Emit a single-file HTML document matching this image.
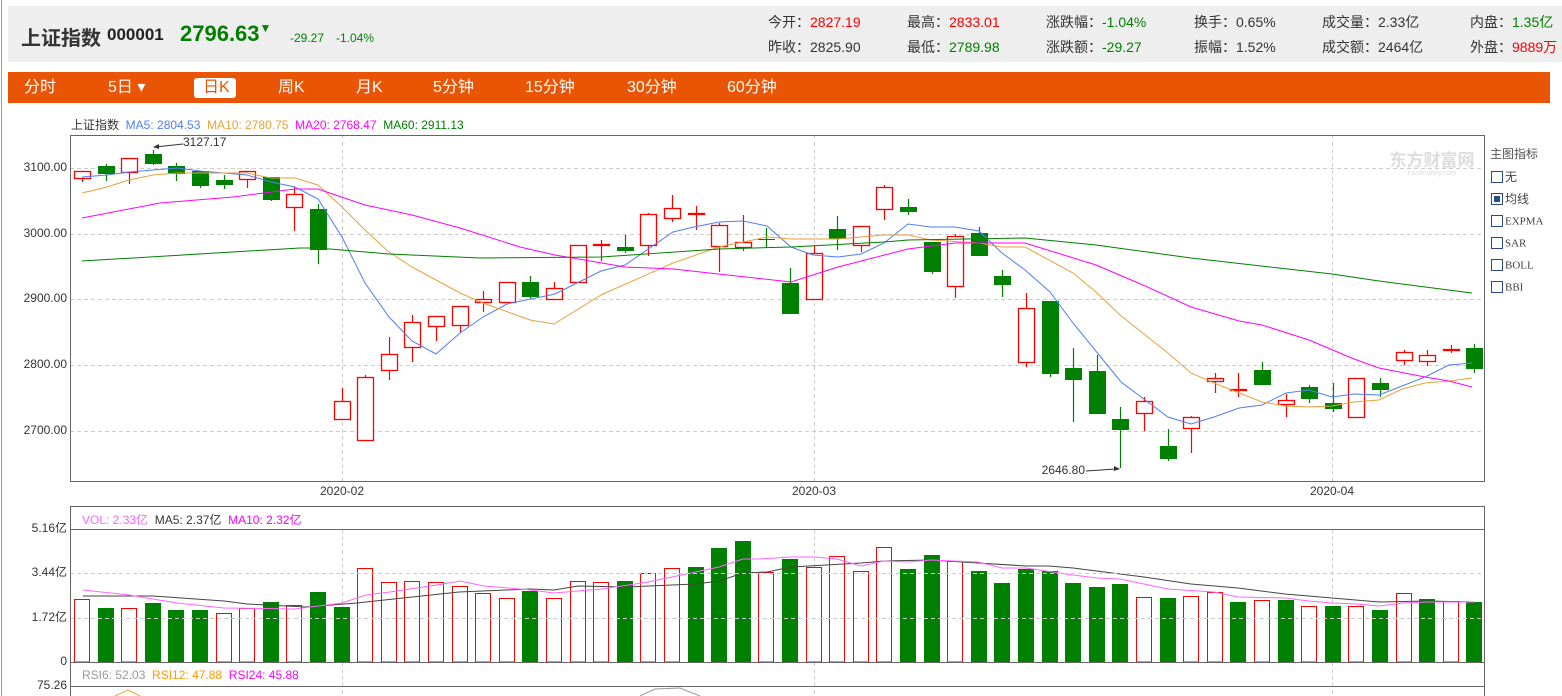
<!DOCTYPE html>
<html><head><meta charset="utf-8">
<style>
html,body{margin:0;width:1562px;height:696px;overflow:hidden}
body{background:#fff;position:relative;font-family:"Liberation Sans","Noto Sans CJK SC",sans-serif;color:#333}
.a{position:absolute;white-space:nowrap}
#hdr{position:absolute;left:8px;top:6px;width:1554px;height:56px;background:#eeeeee}
#bar{position:absolute;left:8px;top:72px;width:1542px;height:31px;background:#e95504}
.t{position:absolute;top:78px;color:#fff;font-size:16px;line-height:20px}
.s{font-size:14px;line-height:16px}
.g{color:#008000}.r{color:#f00}
</style></head><body>
<div class="a" style="left:1px;top:0;width:1px;height:696px;background:#999"></div>
<div id="hdr"></div>
<div class="a" style="left:21px;top:22px;font-size:20px;font-weight:bold;color:#333">上证指数</div>
<div class="a" style="left:107px;top:25px;font-size:17px;font-weight:bold;color:#222">000001</div>
<div class="a g" style="left:180px;top:21px;font-size:22px;font-weight:bold">2796.63<span style="font-size:12px;vertical-align:top">▼</span></div>
<div class="a g" style="left:290px;top:31px;font-size:12px">-29.27</div>
<div class="a g" style="left:336px;top:31px;font-size:12px">-1.04%</div>
<div class="a s" style="left:768px;top:14px">今开：<span class="r">2827.19</span></div>
<div class="a s" style="left:768px;top:39px">昨收：2825.90</div>
<div class="a s" style="left:907px;top:14px">最高：<span class="r">2833.01</span></div>
<div class="a s" style="left:907px;top:39px">最低：<span class="g">2789.98</span></div>
<div class="a s" style="left:1046px;top:14px">涨跌幅：<span class="g">-1.04%</span></div>
<div class="a s" style="left:1046px;top:39px">涨跌额：<span class="g">-29.27</span></div>
<div class="a s" style="left:1194px;top:14px">换手：0.65%</div>
<div class="a s" style="left:1194px;top:39px">振幅：1.52%</div>
<div class="a s" style="left:1322px;top:14px">成交量：2.33亿</div>
<div class="a s" style="left:1322px;top:39px">成交额：2464亿</div>
<div class="a s" style="left:1470px;top:14px">内盘：<span class="g">1.35亿</span></div>
<div class="a s" style="left:1470px;top:39px">外盘：<span class="r">9889万</span></div>
<div id="bar"></div>
<div class="t" style="left:24px">分时</div>
<div class="t" style="left:108px">5日 ▾</div>
<div class="a" style="left:194px;top:78px;width:42px;height:20px;background:#fff;border-radius:3px"></div>
<div class="t" style="left:203px;color:#e95504">日K</div>
<div class="t" style="left:278px">周K</div>
<div class="t" style="left:356px">月K</div>
<div class="t" style="left:433px">5分钟</div>
<div class="t" style="left:525px">15分钟</div>
<div class="t" style="left:627px">30分钟</div>
<div class="t" style="left:727px">60分钟</div>
<div class="a" style="left:71px;top:116px;font-size:12px">上证指数 &nbsp;<span style="color:#4e7ef7">MA5: 2804.53</span> &nbsp;<span style="color:#e6a23c">MA10: 2780.75</span> &nbsp;<span style="color:#f0f">MA20: 2768.47</span> &nbsp;<span style="color:#008000">MA60: 2911.13</span></div>
<div class="a" style="left:1490px;top:145px;font-size:12px;color:#555">主图指标</div>
<div class="a" style="left:82px;top:511px;font-size:12px"><span style="color:#f6f">VOL: 2.33亿</span> &nbsp;<span style="color:#333">MA5: 2.37亿</span> &nbsp;<span style="color:#f0f">MA10: 2.32亿</span></div>
<div class="a" style="left:82px;top:668px;font-size:12px"><span style="color:#999">RSI6: 52.03</span> &nbsp;<span style="color:#f90">RSI12: 47.88</span> &nbsp;<span style="color:#f0f">RSI24: 45.88</span></div>
<svg id="sv" class="a" style="left:0;top:0" width="1562" height="696" xmlns="http://www.w3.org/2000/svg" font-family="Liberation Sans, Noto Sans CJK SC, sans-serif"></svg>
<script>
var S='';
function L(x1,y1,x2,y2,c,w,d){S+='<line x1="'+x1+'" y1="'+y1+'" x2="'+x2+'" y2="'+y2+'" stroke="'+c+'" stroke-width="'+(w||1)+'"'+(d?' stroke-dasharray="'+d+'"':'')+'/>';}
function T(x,y,s,a,c,f){S+='<text x="'+x+'" y="'+y+'" font-size="'+(f||12)+'" fill="'+(c||'#333')+'" text-anchor="'+(a||'start')+'" dominant-baseline="middle">'+s+'</text>';}
function P(pts,c,w){S+='<polyline fill="none" stroke="'+c+'" stroke-width="'+(w||1)+'" points="'+pts.map(function(p){return p.join(',')}).join(' ')+'"/>';}
[[168,'3100.00'],[234,'3000.00'],[299,'2900.00'],[365,'2800.00'],[431,'2700.00']].forEach(function(g){L(70,g[0]+.5,1485,g[0]+.5,'#ccc',1,'4,3');T(67,g[0],g[1],'end');});
[[342,'2020-02'],[814,'2020-03'],[1332,'2020-04']].forEach(function(g){L(g[0]+.5,135,g[0]+.5,481,'#ccc',1,'4,3');L(g[0]+.5,529,g[0]+.5,696,'#ccc',1,'4,3');T(g[0],492,g[1],'middle');});
S+='<text x="1432" y="166" font-size="17" font-weight="bold" fill="#ddd" text-anchor="middle">东方财富网</text><text x="1432" y="175" font-size="7" fill="#ddd" text-anchor="middle">eastmoney.com</text>';
var C=[['r',179,171,171,182],['g',166,174,164,181],['r',173,158,158,184],['g',154,164,150,165],['g',166,174,163,181],['g',171,186,171,188],['g',180,185,175,189],['r',180,171,171,188],['g',177,200,177,201],['r',208,194,187,231],['g',209,250,204,264],['r',420,401,388,420],['r',441,377,375,441],['r',371,354,337,380],['r',348,322,315,362],['r',327,316,316,341],['r',326,306,306,333],['r',303,299,291,312],['r',303,282,282,303],['g',282,297,276,299],['r',300,288,282,300],['r',283,245,245,283],['r',246,244,240,261],['g',247,251,235,253],['r',246,214,213,256],['r',219,208,195,222],['r',215,213,206,230],['r',247,225,223,272],['r',248,242,215,251],['g',239,240,228,248],['g',283,314,268,314],['r',300,253,245,300],['g',229,239,216,250],['r',246,226,226,252],['r',210,187,185,220],['g',207,212,199,215],['g',242,272,242,274],['r',287,236,234,298],['g',233,256,227,256],['g',276,285,270,297],['r',363,308,293,367],['g',301,374,301,377],['g',368,380,348,422],['g',371,414,355,414],['g',419,430,407,468],['r',414,401,397,431],['g',446,459,429,461],['r',429,417,416,453],['r',382,378,373,393],['r',391,389,373,397],['g',370,385,362,385],['r',405,400,394,417],['g',387,399,385,403],['g',403,409,383,412],['r',418,378,378,418],['g',383,390,378,397],['r',361,352,350,365],['r',362,355,350,366],['r',350,349,345,353],['g',348,369,344,373]];
var V=[['r',599],['g',608],['r',608],['g',603],['g',610],['g',610],['r',613],['r',608],['g',602],['r',605],['g',592],['g',607],['r',568],['r',582],['r',581],['r',582],['r',586],['r',593],['r',598],['g',591],['r',598],['r',581],['r',582],['g',581],['r',573],['r',568],['g',567],['g',548],['g',541],['r',572],['g',559],['r',567],['r',556],['r',571],['r',547],['g',569],['g',555],['r',561],['g',571],['g',583],['g',569],['g',571],['g',583],['g',587],['g',584],['r',597],['g',598],['r',596],['r',592],['g',602],['r',600],['g',600],['r',606],['g',606],['r',606],['g',610],['r',593],['g',599],['r',601],['g',602]];
C.forEach(function(c,i){var x=Math.round(82+23.6*i),top=Math.min(c[1],c[2]),h=Math.max(Math.abs(c[1]-c[2]),1);
 var col=c[0]=='r'?'#f00':'#008000';
 L(x+.5,c[3],x+.5,top,col,1.2);L(x+.5,top+h,x+.5,c[4],col,1.2);
 if(c[0]=='r')S+='<rect x="'+(x-7.5)+'" y="'+(top+.5)+'" width="16" height="'+(h-1<1?1:h-1)+'" fill="#fff" stroke="#f00" stroke-width="1.3"/>';
 else S+='<rect x="'+(x-8)+'" y="'+top+'" width="17" height="'+h+'" fill="#008000"/>';});
V.forEach(function(v,i){var x=Math.round(82+23.6*i);
 if(v[0]=='r')S+='<rect x="'+(x-7.5)+'" y="'+(v[1]+.5)+'" width="15" height="'+(661.5-v[1])+'" fill="#fff" stroke="#f00" stroke-width="1"/>';
 else S+='<rect x="'+(x-8)+'" y="'+v[1]+'" width="16" height="'+(662-v[1])+'" fill="#008000"/>';});
P([[82,177],[107,175],[129,172],[177,168],[200,171],[247,175],[271,182],[295,187],[318,199],[342,237],[365,283],[389,317],[412,341],[436,354],[460,333],[483,317],[507,304],[555,294],[601,271],[625,265],[673,232],[694,227],[719,222],[743,221],[767,226],[791,247],[813,255],[838,257],[861,254],[884,243],[908,224],[931,227],[955,227],[979,231],[1002,253],[1025,270],[1050,292],[1073,323],[1121,382],[1168,417],[1191,424],[1214,417],[1239,408],[1262,405],[1286,393],[1309,390],[1332,397],[1354,394],[1379,395],[1402,386],[1425,377],[1449,365],[1472,363]],'#4e7ef7');
P([[82,193],[107,187],[129,180],[153,175],[177,173],[247,173],[271,178],[295,178],[318,185],[342,207],[365,230],[389,252],[412,267],[436,280],[460,293],[483,303],[530,320],[554,324],[601,295],[673,263],[719,247],[767,237],[791,239],[838,239],[861,237],[884,235],[908,235],[931,240],[979,243],[1002,247],[1025,247],[1073,273],[1096,292],[1120,315],[1168,353],[1191,373],[1214,383],[1262,402],[1286,406],[1309,407],[1332,406],[1354,402],[1379,400],[1402,389],[1425,383],[1449,381],[1472,378]],'#e6a23c');
P([[82,218],[160,203],[233,197],[295,189],[318,189],[365,205],[412,215],[460,228],[520,247],[555,255],[625,267],[673,269],[791,282],[838,267],[908,249],[955,243],[1002,243],[1025,243],[1096,265],[1143,285],[1191,307],[1239,321],[1262,325],[1309,340],[1354,359],[1379,368],[1425,377],[1449,381],[1472,387]],'#f0f');
P([[82,261],[300,248],[318,248],[389,254],[480,258],[601,257],[719,249],[791,247],[884,242],[908,240],[1025,238],[1096,245],[1191,258],[1332,274],[1379,281],[1472,293]],'#008000');
T(183,143,'3127.17','start','#333');L(183,144,155,147,'#333');S+='<path d="M153,147 l6,-3 l0,5z" fill="#333"/>';
T(1085,471,'2646.80','end','#333');L(1086,471,1116,469,'#333');S+='<path d="M1120,469 l-6,-3 l0,5z" fill="#333"/>';
function cv5(a){return a.map(function(p){return [Math.round(p[0]/1.96),Math.round(495+p[1]/3)]});}
function cv7(a){return a.map(function(p){return [Math.round(760+p[0]/1.955),Math.round(495+p[1]/3)]});}
P(cv5([[162,303],[300,303],[440,318],[485,328],[600,335],[700,325],[900,290],[1040,282],[1086,284],[1133,274],[1226,277],[1318,270],[1364,267],[1410,258],[1457,235],[1503,230]]).concat(cv7([[60,217],[198,203],[243,197],[335,194],[427,205],[520,212],[565,212],[612,220],[751,245],[843,268],[935,280],[1027,298],[1119,310],[1211,321],[1305,319],[1397,320]])),'#444');
P(cv5([[162,286],[253,300],[347,323],[440,338],[578,343],[671,325],[717,300],[764,290],[856,270],[901,258],[948,272],[1040,285],[1086,294],[1180,283],[1271,262],[1318,245],[1410,215],[1457,193]]).concat(cv7([[0,193],[60,187],[105,187],[150,193],[198,212],[243,198],[290,200],[335,196],[427,200],[473,218],[520,220],[612,240],[658,250],[704,252],[751,268],[797,283],[888,292],[935,305],[1027,310],[1074,318],[1119,325],[1166,328],[1211,332],[1258,325],[1305,320],[1397,320]])),'#f6f');
L(70,573.5,1485,573.5,'#ccc',1,'4,3');L(70,618.5,1485,618.5,'#ccc',1,'4,3');
T(67,529,'5.16亿','end');T(67,573,'3.44亿','end');T(67,618,'1.72亿','end');T(67,662,'0','end');T(67,686,'75.26','end');
S+='<rect x="70.5" y="135.5" width="1414" height="346" fill="none" stroke="#666"/>';
L(70.5,506,70.5,696,'#666');L(1484.5,506,1484.5,696,'#666');L(70,506.5,1485,506.5,'#666');
L(70,529.5,1485,529.5,'#666');L(70,662.5,1485,662.5,'#666');L(70,686.5,1485,686.5,'#666');
P([[115,696],[128,690],[140,696]],'#e6a23c');P([[640,696],[655,689],[680,688],[700,696]],'#999');
['无','均线','EXPMA','SAR','BOLL','BBI'].forEach(function(n,i){var y=171+22*i;
 S+='<rect x="1491.5" y="'+(y+.5)+'" width="11" height="11" fill="#fff" stroke="#2a4b8a"/>';
 if(i==1)S+='<rect x="1494" y="'+(y+3)+'" width="6" height="6" fill="#2a4b8a"/>';
 S+='<text x="1505" y="'+(y+7)+'" font-size="'+(i<2?12:11)+'" fill="#444" dominant-baseline="middle"'+(i<2?'':' font-family="Liberation Serif, serif"')+'>'+n+'</text>';});
document.getElementById('sv').innerHTML=S;
</script>
</body></html>
